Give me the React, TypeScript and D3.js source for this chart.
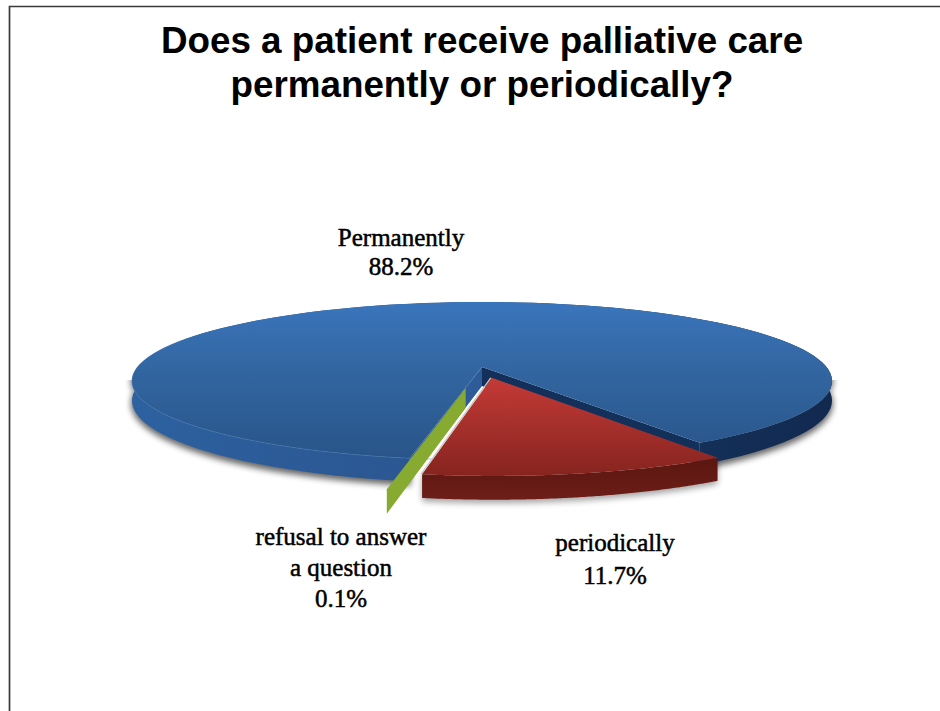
import React, { useEffect, useRef } from "react";
import * as d3 from "d3";

const categories = ["periodically", "refusal to answer a question", "Permanently"];
const shares = [11.7, 0.1, 88.2];
const explode = [0.14, 0.265, 0];
const titleLines = ["Does a patient receive palliative care", "permanently or periodically?"];
const labelBlocks = [
  { lines: ["periodically", "11.7%"], x: 615, y: [551, 584] },
  { lines: ["refusal to answer", "a question", "0.1%"], x: 341, y: [545, 576, 607] },
  { lines: ["Permanently", "88.2%"], x: 401, y: [246, 275] },
];

const WIDTH = 940;
const HEIGHT = 711;
const CENTER_X = 482;
const CENTER_Y = 367;
const RADIUS_X = 344.5;
const RADIUS_Y = 76.5;
const TILT = 0.177;
const DEPTH = 19;
const START_DEG = 147.5;

type Pt = [number, number];

// Perspective projection of the pie plane, u to the right and v away from the viewer.
const project = (u: number, v: number, down = 0): Pt => {
  const w = 1 + TILT * v;
  return [CENTER_X + (RADIUS_X * u) / w, CENTER_Y - (RADIUS_Y * v) / w + (down * DEPTH) / w];
};

const rimPoints = (a0: number, a1: number, cu: number, cv: number, down = 0): Pt[] =>
  d3.range(0, 121).map((i) => {
    const a = a0 + ((a1 - a0) * i) / 120;
    return project(cu + Math.sin(a), cv + Math.cos(a), down);
  });

const line = d3.line<Pt>();

export default function App() {
  const ref = useRef<SVGSVGElement>(null);

  useEffect(() => {
    const svg = d3.select(ref.current);
    svg.selectAll("*").remove();

    const defs = svg.append("defs");
    const vertical = (id: string, y0: number, y1: number, stops: [number, string][]) => {
      const g = defs
        .append("linearGradient")
        .attr("id", id)
        .attr("gradientUnits", "userSpaceOnUse")
        .attr("x1", 0)
        .attr("x2", 0)
        .attr("y1", y0)
        .attr("y2", y1);
      stops.forEach(([o, c]) => g.append("stop").attr("offset", o).attr("stop-color", c));
    };
    vertical("blueTop", 302, 462, [
      [0, "#3a75bc"],
      [0.45, "#32659f"],
      [1, "#285488"],
    ]);
    vertical("redTop", 378, 476, [
      [0, "#c43a37"],
      [1, "#86241f"],
    ]);
    vertical("redWall", 458, 500, [
      [0, "#5a1610"],
      [1, "#6e1e18"],
    ]);
    const wall = defs
      .append("linearGradient")
      .attr("id", "blueWall")
      .attr("gradientUnits", "userSpaceOnUse")
      .attr("x1", 133)
      .attr("x2", 835)
      .attr("y1", 0)
      .attr("y2", 0);
    [
      [0, "#2d619f"],
      [0.38, "#2b5792"],
      [0.46, "#264d80"],
      [0.78, "#14315a"],
      [1, "#12294f"],
    ].forEach(([o, c]) => wall.append("stop").attr("offset", o).attr("stop-color", c as string));

    const shadow = defs.append("filter").attr("id", "soft").attr("x", "-10%").attr("y", "-20%").attr("width", "120%").attr("height", "140%");
    shadow.append("feGaussianBlur").attr("stdDeviation", 3);
    defs
      .append("clipPath")
      .attr("id", "belowRim")
      .append("rect")
      .attr("x", 0)
      .attr("y", 380)
      .attr("width", WIDTH)
      .attr("height", HEIGHT - 380);

    const arcs = d3
      .pie<number>()
      .sort(null)
      .startAngle((START_DEG * Math.PI) / 180)
      .endAngle(((START_DEG + 360) * Math.PI) / 180)(shares);

    const slices = arcs.map((arc, i) => {
      const mid = (arc.startAngle + arc.endAngle) / 2;
      const cu = explode[i] * Math.sin(mid);
      const cv = explode[i] * Math.cos(mid);
      return { a0: arc.startAngle, a1: arc.endAngle, cu, cv, name: categories[i] };
    });
    const [red, green, blue] = slices;

    const plot = svg.append("g");

    // Soft ground shadow following the lower rims; nothing shows above the widest point.
    const shadowPath = (s: typeof blue) => {
      const top = rimPoints(s.a0, s.a1, s.cu, s.cv, 0);
      const bottom = rimPoints(s.a0, s.a1, s.cu, s.cv, 1.15);
      return line([...top, ...bottom.reverse()])! + "Z";
    };
    const shadows = plot.append("g").attr("clip-path", "url(#belowRim)");
    shadows
      .append("path")
      .attr("d", shadowPath(blue))
      .attr("fill", "#000")
      .attr("stroke", "#000")
      .attr("stroke-width", 2)
      .attr("opacity", 0.6)
      .attr("filter", "url(#soft)");
    shadows
      .append("path")
      .attr("d", shadowPath(red))
      .attr("fill", "#000")
      .attr("opacity", 0.35)
      .attr("filter", "url(#soft)");

    // Large slice: outer wall, the two cut walls, then its top face.
    const outerWall = (s: typeof blue) =>
      line([...rimPoints(s.a0, s.a1, s.cu, s.cv, 0), ...rimPoints(s.a0, s.a1, s.cu, s.cv, 1).reverse()])! + "Z";
    const cutWall = (s: typeof blue, a: number) =>
      line([
        project(s.cu, s.cv, 0),
        project(s.cu + Math.sin(a), s.cv + Math.cos(a), 0),
        project(s.cu + Math.sin(a), s.cv + Math.cos(a), 1),
        project(s.cu, s.cv, 1),
      ])! + "Z";
    const topFace = (s: typeof blue) =>
      line([project(s.cu, s.cv, 0), ...rimPoints(s.a0, s.a1, s.cu, s.cv, 0)])! + "Z";

    plot.append("path").attr("d", outerWall(blue)).attr("fill", "url(#blueWall)");
    plot.append("path").attr("d", cutWall(blue, blue.a0)).attr("fill", "#2d5c98");
    plot.append("path").attr("d", cutWall(blue, blue.a1)).attr("fill", "#12305a");
    plot.append("path").attr("d", topFace(blue)).attr("fill", "url(#blueTop)");
    plot
      .append("path")
      .attr("d", line(rimPoints(Math.PI, 1.62 * Math.PI, 0, 0, 0)))
      .attr("fill", "none")
      .attr("stroke", "#4a80c0")
      .attr("stroke-width", 1)
      .attr("opacity", 0.45);

    // The tiny slice reads only through its wall.
    const greenMid = (green.a0 + green.a1) / 2;
    plot.append("path").attr("d", cutWall(green, greenMid)).attr("fill", "#87aa30");

    // Pulled-out slice.
    plot.append("path").attr("d", outerWall(red)).attr("fill", "url(#redWall)");
    plot.append("path").attr("d", topFace(red)).attr("fill", "url(#redTop)");
    plot
      .append("path")
      .attr(
        "d",
        line([
          project(red.cu, red.cv, 0),
          project(red.cu + Math.sin(red.a1), red.cv + Math.cos(red.a1), 0),
        ])
      )
      .attr("transform", "translate(-1,0)")
      .attr("stroke", "#c9c6c0")
      .attr("stroke-width", 1.3)
      .attr("fill", "none");

    // Frame
    svg
      .append("path")
      .attr("d", `M9.5 ${HEIGHT}V6.5H${WIDTH}`)
      .attr("fill", "none")
      .attr("stroke", "#3a3a3a")
      .attr("stroke-width", 1.7);

    // Title
    svg
      .append("g")
      .selectAll("text")
      .data(titleLines)
      .join("text")
      .attr("x", 482)
      .attr("y", (_, i) => 53 + i * 44)
      .attr("text-anchor", "middle")
      .attr("font-family", "'Liberation Sans', Arial, sans-serif")
      .attr("font-weight", 700)
      .attr("font-size", 36.8)
      .attr("fill", "#000")
      .text((d) => d);

    // Data labels
    labelBlocks.forEach((b) => {
      b.lines.forEach((t, i) => {
        svg
          .append("text")
          .attr("x", b.x)
          .attr("y", b.y[i])
          .attr("text-anchor", "middle")
          .attr("font-family", "'Liberation Serif', serif")
          .attr("font-size", 25)
          .attr("fill", "#000")
          .attr("stroke", "#000")
          .attr("stroke-width", 0.5)
          .text(t);
      });
    });
  }, []);

  return (
    <svg
      ref={ref}
      width={WIDTH}
      height={HEIGHT}
      viewBox={`0 0 ${WIDTH} ${HEIGHT}`}
      style={{ position: "absolute", left: 0, top: 0, display: "block", background: "#fff" }}
    />
  );
}
